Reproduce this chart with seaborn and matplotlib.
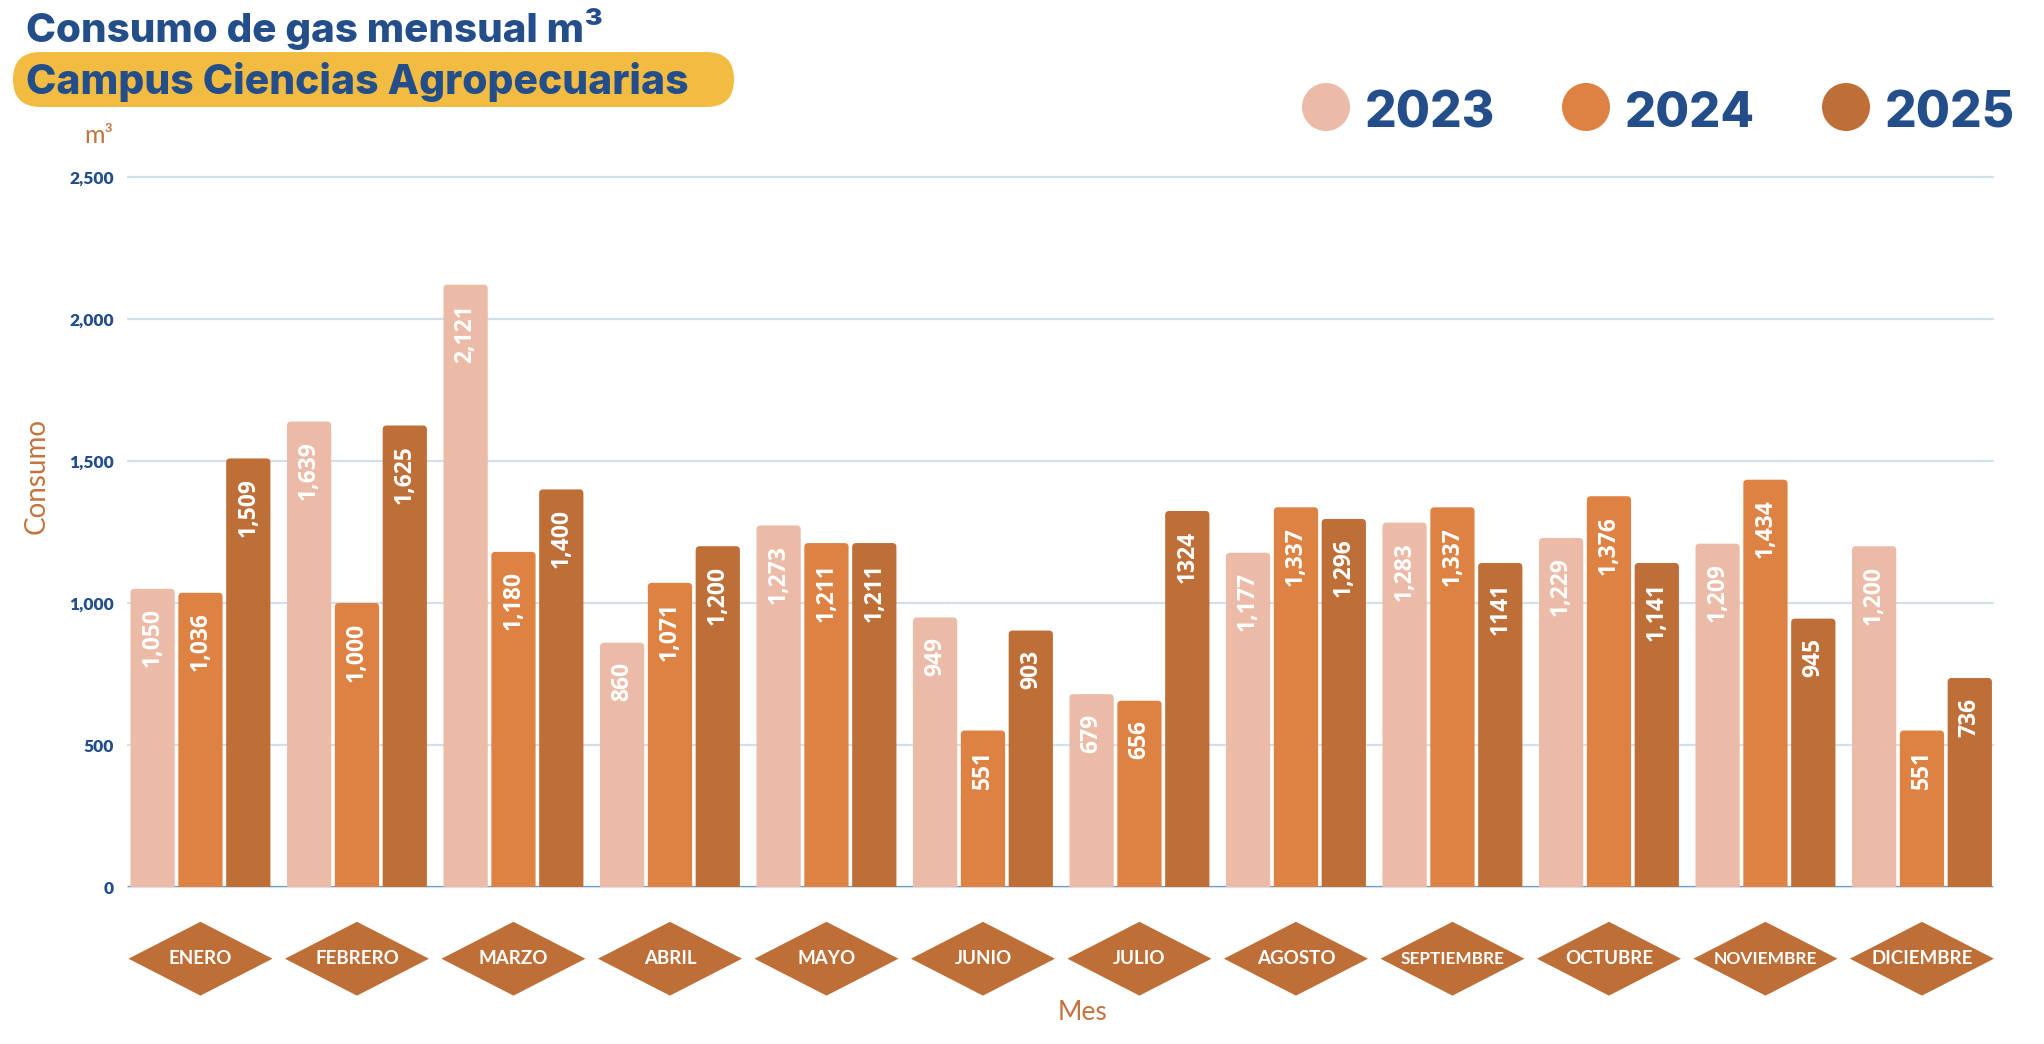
import numpy as np
import pandas as pd
import seaborn as sns
import matplotlib.pyplot as plt
from matplotlib.patches import FancyBboxPatch, Circle, Polygon
from matplotlib.transforms import blended_transform_factory

# === datos ===
meses = ["ENERO", "FEBRERO", "MARZO", "ABRIL", "MAYO", "JUNIO", "JULIO",
         "AGOSTO", "SEPTIEMBRE", "OCTUBRE", "NOVIEMBRE", "DICIEMBRE"]
anios = ["2023", "2024", "2025"]
consumo_2023 = [1050, 1639, 2121, 860, 1273, 949, 679, 1177, 1283, 1229, 1209, 1200]
consumo_2024 = [1036, 1000, 1180, 1071, 1211, 551, 656, 1337, 1337, 1376, 1434, 551]
consumo_2025 = [1509, 1625, 1400, 1200, 1211, 903, 1324, 1296, 1141, 1141, 945, 736]
# etiquetas tal como salen en el original (algunas sin separador de miles)
etiquetas_2023 = ["1,050", "1,639", "2,121", "860", "1,273", "949", "679",
                  "1,177", "1,283", "1,229", "1,209", "1,200"]
etiquetas_2024 = ["1,036", "1,000", "1,180", "1,071", "1,211", "551", "656",
                  "1,337", "1,337", "1,376", "1,434", "551"]
etiquetas_2025 = ["1,509", "1,625", "1,400", "1,200", "1,211", "903", "1324",
                  "1,296", "1141", "1,141", "945", "736"]
y_ticks = [0, 500, 1000, 1500, 2000, 2500]

colores = ["#EBBBA7", "#DE8244", "#BE6E37"]
AZUL = "#234E8A"
NARANJA = "#C4733D"
AMARILLO = "#F2BC42"

df = pd.DataFrame({
    "Mes": meses * 3,
    "Año": np.repeat(anios, len(meses)),
    "Consumo": consumo_2023 + consumo_2024 + consumo_2025,
})

sns.set_theme(style="white")
plt.rcParams['font.family'] = ['Lato', 'DejaVu Sans']

W, H = 2044, 1044
fig = plt.figure(figsize=(W / 100, H / 100), dpi=100)
fig.patch.set_facecolor("white")

# capa en pixeles para titulo y leyenda
bg = fig.add_axes([0, 0, 1, 1])
bg.set_xlim(0, W)
bg.set_ylim(H, 0)
bg.axis("off")
bg.set_zorder(-1)

ax = fig.add_axes([128 / W, (H - 887) / H, 1865 / W, 710 / H])
ax.set_facecolor("none")

sns.barplot(data=df, x="Mes", y="Consumo", hue="Año", palette=colores,
            saturation=1, width=0.917, gap=0.075, errorbar=None,
            legend=False, ax=ax)

ax.set_xlim(-0.463, 11.454)
ax.set_ylim(0, 2500)
ax.set_yticks(y_ticks)
ax.set_yticklabels([f"{v:,}" for v in y_ticks], fontweight="heavy")
ax.tick_params(axis="y", length=0, pad=10, labelsize=12.5, labelcolor=AZUL)
ax.tick_params(axis="x", length=0, labelbottom=False)
ax.set_xlabel("")
ax.set_ylabel("")
for s in ax.spines.values():
    s.set_visible(False)
ax.yaxis.grid(True, color="#D3DFEA", lw=1.6)
ax.set_axisbelow(True)
for gl in ax.get_ygridlines():
    gl.set_clip_on(False)
ax.axhline(0, color="#6E9BC6", lw=1.5, zorder=0.6)

# barras con esquinas superiores redondeadas
fig.canvas.draw()
rend = fig.canvas.get_renderer()
bb = ax.get_window_extent()
x_per_px = (ax.get_xlim()[1] - ax.get_xlim()[0]) / bb.width
y_per_px = (ax.get_ylim()[1] - ax.get_ylim()[0]) / bb.height
asp = y_per_px / x_per_px
rx = 4 * x_per_px

for cont, etiquetas in zip(ax.containers, [etiquetas_2023, etiquetas_2024, etiquetas_2025]):
    for bar, lab in zip(cont, etiquetas):
        x, w, h = bar.get_x(), bar.get_width(), bar.get_height()
        ry = rx * asp
        p = FancyBboxPatch((x, -ry), w, h + ry,
                           boxstyle=f"round,pad=0,rounding_size={rx}",
                           mutation_aspect=asp, fc=bar.get_facecolor(),
                           ec="none", zorder=2)
        bar.set_visible(False)
        ax.add_patch(p)
        ax.annotate(lab, (x + w / 2, h), xytext=(0, -14), textcoords="offset points",
                    rotation=90, ha="center", va="top", color="white",
                    fontsize=16.5, fontweight="bold", family=["Open Sans", "DejaVu Sans"],
                    zorder=3)

# rombos con los meses
trans = blended_transform_factory(ax.transData, ax.transAxes)
cy, hh, hw = -0.101, 0.052, 0.46
ancho_max = 104
for xt, mes in zip(ax.get_xticks(), meses):
    ax.add_patch(Polygon([(xt - hw, cy), (xt, cy + hh), (xt + hw, cy), (xt, cy - hh)],
                         closed=True, fc=colores[2], ec="none",
                         transform=trans, clip_on=False))
    t = ax.text(xt, cy, mes, transform=trans, ha="center", va="center",
                color="white", fontsize=13.5, fontweight="bold", clip_on=False)
    ancho = t.get_window_extent(rend).width
    if ancho > ancho_max:
        t.set_fontsize(13.5 * ancho_max / ancho)

fig.text(37 / W, 1 - 476 / H, "Consumo", rotation=90, ha="center", va="center",
         color=NARANJA, fontsize=20)
fig.text(1082 / W, 1 - 1013 / H, "Mes", ha="center", va="center",
         color=NARANJA, fontsize=19)


def texto_ajustado(x, y, s, ancho, size):
    # fuente mas ancha que Lato: se ajusta al ancho medido en el original
    t = bg.text(x, y, s, va="baseline", ha="left", fontsize=size,
                fontweight="heavy", color=AZUL, family=["Inter", "Lato", "DejaVu Sans"])
    wpx = t.get_window_extent(rend).width
    t.set_fontsize(size * ancho / wpx)
    return t


# titulo
texto_ajustado(26, 42, "Consumo de gas mensual m³", 579, 30)
bg.add_patch(FancyBboxPatch((13, 52), 721, 55, boxstyle="round,pad=0,rounding_size=27.5",
                            fc=AMARILLO, ec="none"))
texto_ajustado(26, 94, "Campus Ciencias Agropecuarias", 664, 30)
bg.text(99, 143, "m³", va="baseline", ha="center", fontsize=18, color=NARANJA)

# leyenda
for k, (anio, col) in enumerate(zip(anios, colores)):
    cx = 1326 + k * 260
    bg.add_patch(Circle((cx, 107), 24, fc=col, ec="none"))
    texto_ajustado(cx + 39, 127, anio, 130, 38)

fig.savefig("out.png", dpi=100)
